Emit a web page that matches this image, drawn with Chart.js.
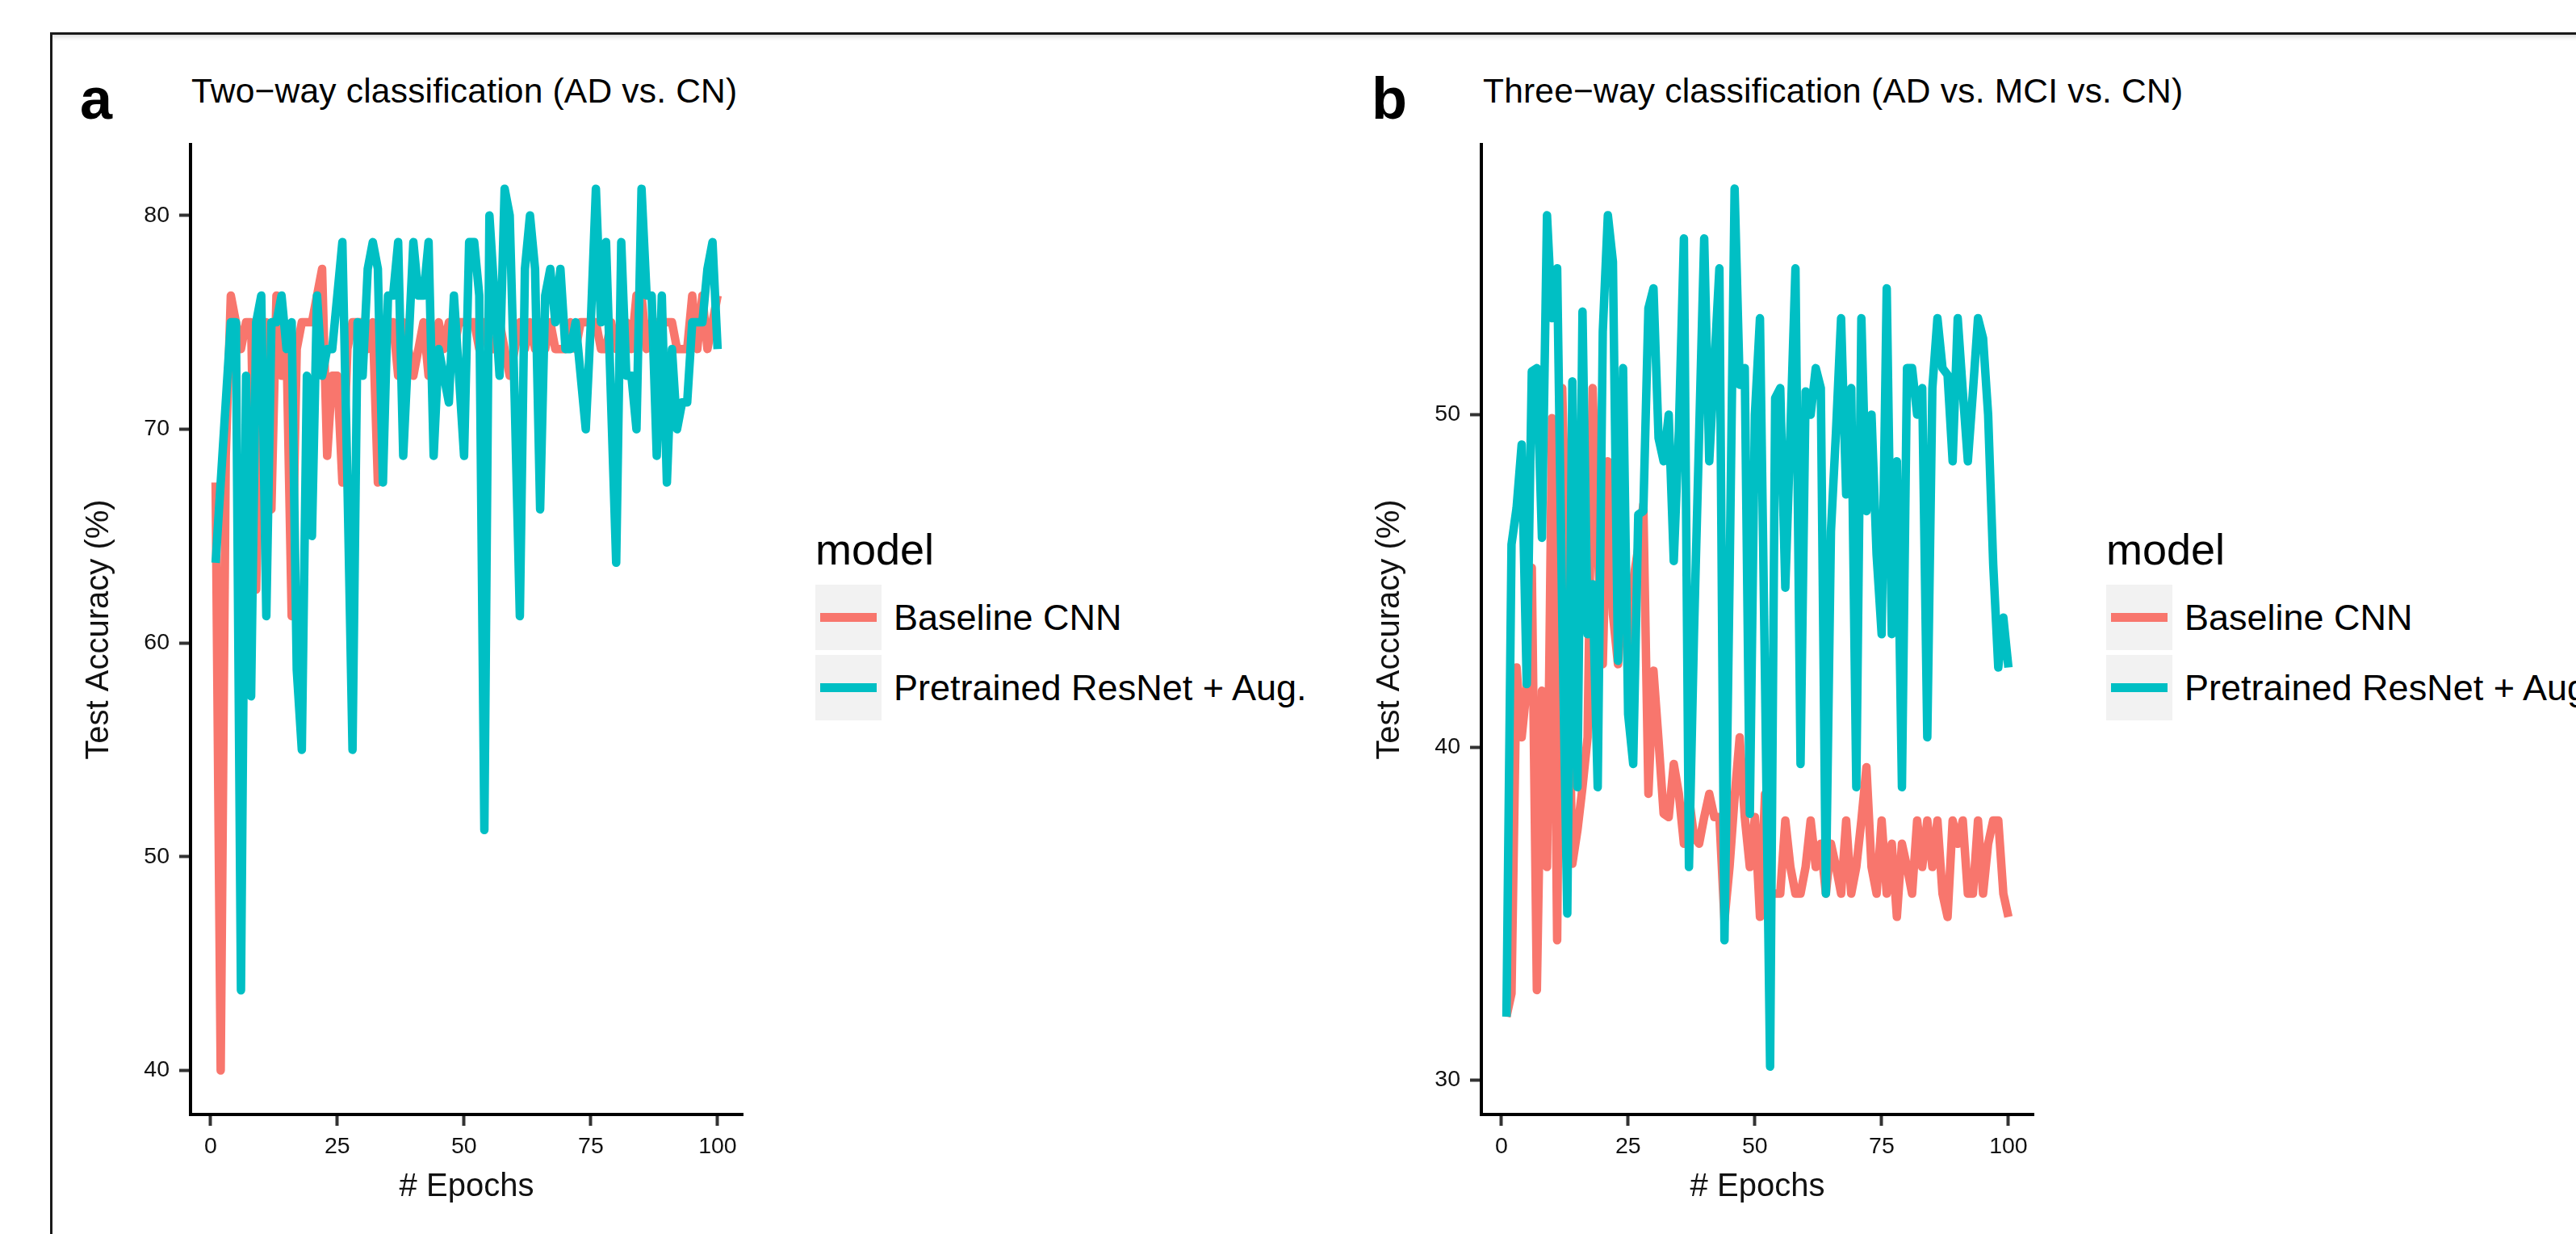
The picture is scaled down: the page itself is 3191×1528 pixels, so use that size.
<!DOCTYPE html>
<html><head><meta charset="utf-8">
<script src="https://cdn.jsdelivr.net/npm/chart.js@4.4.1/dist/chart.umd.min.js"></script>
<style>
html,body{margin:0;padding:0;background:#fff;}
body{width:3191px;height:1528px;position:relative;overflow:hidden;font-family:'Liberation Sans',Arial,Helvetica,sans-serif;}
.frame{position:absolute;left:62px;top:40px;width:3200px;height:1600px;border-top:3px solid #1a1a1a;border-left:3px solid #1a1a1a;box-shadow:inset 0 7px 6px -5px rgba(0,0,0,0.18);}
.abs{position:absolute;white-space:nowrap;line-height:1;color:#000;z-index:2;}
.plabel{font-weight:bold;font-size:72px;}
.title{font-size:42.5px;letter-spacing:0.2px;}
.ltitle{font-size:54px;}
.key{position:absolute;width:82px;height:81px;background:#f2f2f2;}
.key i{position:absolute;left:6px;top:35px;width:70px;height:11px;}
.ltext{font-size:45px;}
canvas{position:absolute;}
</style></head><body>
<div class="frame"></div>

<div class="abs plabel" style="left:99px;top:86px;">a</div>
<div class="abs title" style="left:237px;top:92px;">Two−way classification (AD vs. CN)</div>
<div class="abs plabel" style="left:1699px;top:86px;">b</div>
<div class="abs title" style="left:1837px;top:92px;">Three−way classification (AD vs. MCI vs. CN)</div>

<canvas id="chartA" width="900" height="1360" style="left:40px;top:150px;"></canvas>
<canvas id="chartB" width="900" height="1360" style="left:1639px;top:150px;"></canvas>

<div id="legA"></div>
<div id="legB"></div>

<script>
// ---- data ----
const epochs = Array.from({length: 100}, (_, i) => i + 1);
const xTicks = [0, 25, 50, 75, 100];
const yTicksA = [40, 50, 60, 70, 80];
const yTicksB = [30, 40, 50];
const seriesNames = ['Baseline CNN', 'Pretrained ResNet + Aug.'];
const seriesColors = ['#F8766D', '#00BFC4'];
const legendTitle = 'model';
const xTitle = '# Epochs';
const yTitle = 'Test Accuracy (%)';
const xRange = [-3.95, 104.95];
const yRangeA = [37.94, 83.31];
const yRangeB = [28.96, 58.12];

// Panel a: two-way classification (AD vs. CN)
const baselineA = [
  67.5, 40, 68.75, 76.25, 75, 73.75, 75, 75, 62.5, 73.75,
  75, 66.25, 76.25, 72.5, 73.75, 61.25, 73.75, 75, 75, 75,
  76.25, 77.5, 68.75, 72.5, 72.5, 67.5, 73.75, 75, 75, 75,
  73.75, 75, 67.5, 73.75, 75, 75, 72.5, 75, 73.75, 72.5,
  73.75, 75, 72.5, 73.75, 75, 73.75, 75, 73.75, 75, 75,
  75, 75, 73.75, 75, 73.75, 73.75, 75, 73.75, 72.5, 73.75,
  75, 73.75, 75, 73.75, 75, 73.75, 75, 73.75, 73.75, 73.75,
  75, 73.75, 75, 75, 75, 75, 73.75, 73.75, 75, 73.75,
  73.75, 75, 73.75, 76.25, 76.25, 73.75, 75, 75, 75, 75,
  75, 73.75, 73.75, 73.75, 76.25, 73.75, 76.25, 73.75, 75, 76.25
];
const resnetA = [
  63.75, 67.5, 71.25, 75, 75, 43.75, 72.5, 57.5, 75, 76.25,
  61.25, 75, 75, 76.25, 73.75, 75, 58.75, 55, 72.5, 65,
  76.25, 72.5, 73.75, 73.75, 76.25, 78.75, 67.5, 55, 75, 72.5,
  77.5, 78.75, 77.5, 67.5, 76.25, 76.25, 78.75, 68.75, 73.75, 78.75,
  76.25, 76.25, 78.75, 68.75, 73.75, 72.5, 71.25, 76.25, 72.5, 68.75,
  78.75, 78.75, 76.25, 51.25, 80, 76.25, 72.5, 81.25, 80, 71.25,
  61.25, 77.5, 80, 77.5, 66.25, 76.25, 77.5, 75, 77.5, 73.75,
  73.75, 75, 72.5, 70, 75, 81.25, 75, 78.75, 71.25, 63.75,
  78.75, 72.5, 72.5, 70, 81.25, 76.25, 76.25, 68.75, 76.25, 67.5,
  73.75, 70, 71.25, 71.25, 75, 75, 75, 77.5, 78.75, 73.75
];

// Panel b: three-way classification (AD vs. MCI vs. CN)
const baselineB = [
  31.9, 32.6, 42.4, 40.3, 41.8, 45.4, 32.7, 41.7, 36.4, 49.9,
  34.2, 50.8, 44.5, 36.5, 37.5, 38.8, 40.3, 50.8, 46.0, 42.5,
  48.6, 44.0, 42.5, 44.8, 43.0, 45.0, 46.0, 47.3, 38.6, 42.3,
  40.2, 38.0, 37.9, 39.5, 38.6, 37.1, 38.5, 37.3, 37.1, 37.9,
  38.6, 37.9, 37.9, 34.8, 36.4, 38.5, 40.3, 37.9, 36.4, 37.9,
  34.9, 38.6, 35.6, 35.6, 35.6, 37.8, 36.4, 35.6, 35.6, 36.4,
  37.8, 36.4, 37.1, 35.6, 37.1, 36.4, 35.6, 37.8, 35.6, 36.4,
  37.8, 39.4, 36.4, 35.6, 37.8, 35.6, 37.1, 34.9, 37.1, 36.4,
  35.6, 37.8, 36.4, 37.8, 36.4, 37.8, 35.6, 34.9, 37.8, 37.1,
  37.8, 35.6, 35.6, 37.8, 35.6, 37.1, 37.8, 37.8, 35.6, 34.9
];
const resnetB = [
  31.9, 46.1, 47.2, 49.1, 41.9, 51.3, 51.4, 46.3, 56.0, 52.9,
  54.4, 44.0, 35.0, 51.0, 38.8, 53.1, 43.4, 44.9, 38.8, 52.5,
  56.0, 54.6, 42.6, 51.4, 41.0, 39.5, 47.0, 47.1, 53.2, 53.8,
  49.3, 48.6, 50.0, 45.6, 49.5, 55.3, 36.4, 43.5, 49.4, 55.3,
  48.6, 51.5, 54.4, 34.2, 45.0, 56.8, 50.9, 51.4, 38.0, 50.0,
  52.9, 42.0, 30.4, 50.5, 50.8, 44.8, 49.5, 54.4, 39.5, 50.7,
  50.0, 51.4, 50.8, 35.6, 46.5, 49.5, 52.9, 47.6, 50.8, 38.8,
  52.9, 47.1, 50.0, 45.8, 43.4, 53.8, 43.4, 48.6, 38.8, 51.4,
  51.4, 50.0, 50.8, 40.3, 50.8, 52.9, 51.4, 51.2, 48.6, 52.9,
  50.7, 48.6, 50.7, 52.9, 52.3, 50.0, 45.5, 42.4, 43.9, 42.4
];

// ---- drawing ----
const FONT = "'Liberation Sans', Arial, Helvetica, sans-serif";

function makeChart(id, base, res, yTicks, yRange) {
  const pts = arr => epochs.map((e, i) => ({x: e, y: arr[i]}));
  const ds = (k, arr, order) => ({
    label: seriesNames[k], data: pts(arr),
    borderColor: seriesColors[k], backgroundColor: seriesColors[k],
    borderWidth: 10.5, pointRadius: 0, pointHoverRadius: 0, tension: 0, fill: false,
    borderJoinStyle: 'round', borderCapStyle: 'butt', order: order
  });
  const gridOpts = {drawOnChartArea: false, drawTicks: true, tickLength: 14, tickWidth: 4, tickColor: '#333', color: '#333'};
  return new Chart(document.getElementById(id), {
    type: 'line',
    data: {datasets: [ds(0, base, 1), ds(1, res, 0)]},
    options: {
      responsive: false, animation: false, devicePixelRatio: 1,
      layout: {padding: {top: 26, right: 20, bottom: 0, left: 0}},
      plugins: {legend: {display: false}, tooltip: {enabled: false}},
      scales: {
        x: {
          type: 'linear', min: xRange[0], max: xRange[1], bounds: 'data',
          afterBuildTicks: s => { s.ticks = xTicks.map(v => ({value: v})); },
          afterFit: s => { s.height = 130; },
          grid: gridOpts,
          border: {display: true, color: '#000', width: 4},
          ticks: {autoSkip: false, maxRotation: 0, padding: 9, color: '#111', font: {family: FONT, size: 28.5}},
          title: {display: true, text: xTitle, color: '#111', font: {family: FONT, size: 40}, padding: {top: 0, bottom: 16}}
        },
        y: {
          type: 'linear', min: yRange[0], max: yRange[1], bounds: 'data',
          afterBuildTicks: s => { s.ticks = yTicks.map(v => ({value: v})); },
          afterFit: s => { s.width = 196; },
          grid: gridOpts,
          border: {display: true, color: '#000', width: 4},
          ticks: {autoSkip: false, padding: 12, color: '#111', font: {family: FONT, size: 28.5}},
          title: {display: true, text: yTitle, color: '#111', font: {family: FONT, size: 40}, padding: {top: 59, bottom: 0}}
        }
      }
    }
  });
}

makeChart('chartA', baselineA, resnetA, yTicksA, yRangeA);
makeChart('chartB', baselineB, resnetB, yTicksB, yRangeB);

function makeLegend(id, left) {
  const el = document.getElementById(id);
  let html = '<div class="abs ltitle" style="left:' + left + 'px;top:653px;">' + legendTitle + '</div>';
  seriesNames.forEach((n, k) => {
    const top = 724 + k * 87;
    html += '<div class="key" style="left:' + left + 'px;top:' + top + 'px;"><i style="background:' + seriesColors[k] + '"></i></div>';
    html += '<div class="abs ltext" style="left:' + (left + 97) + 'px;top:' + (top + 18) + 'px;">' + n + '</div>';
  });
  el.innerHTML = html;
}
makeLegend('legA', 1010);
makeLegend('legB', 2609);
</script>
</body></html>
